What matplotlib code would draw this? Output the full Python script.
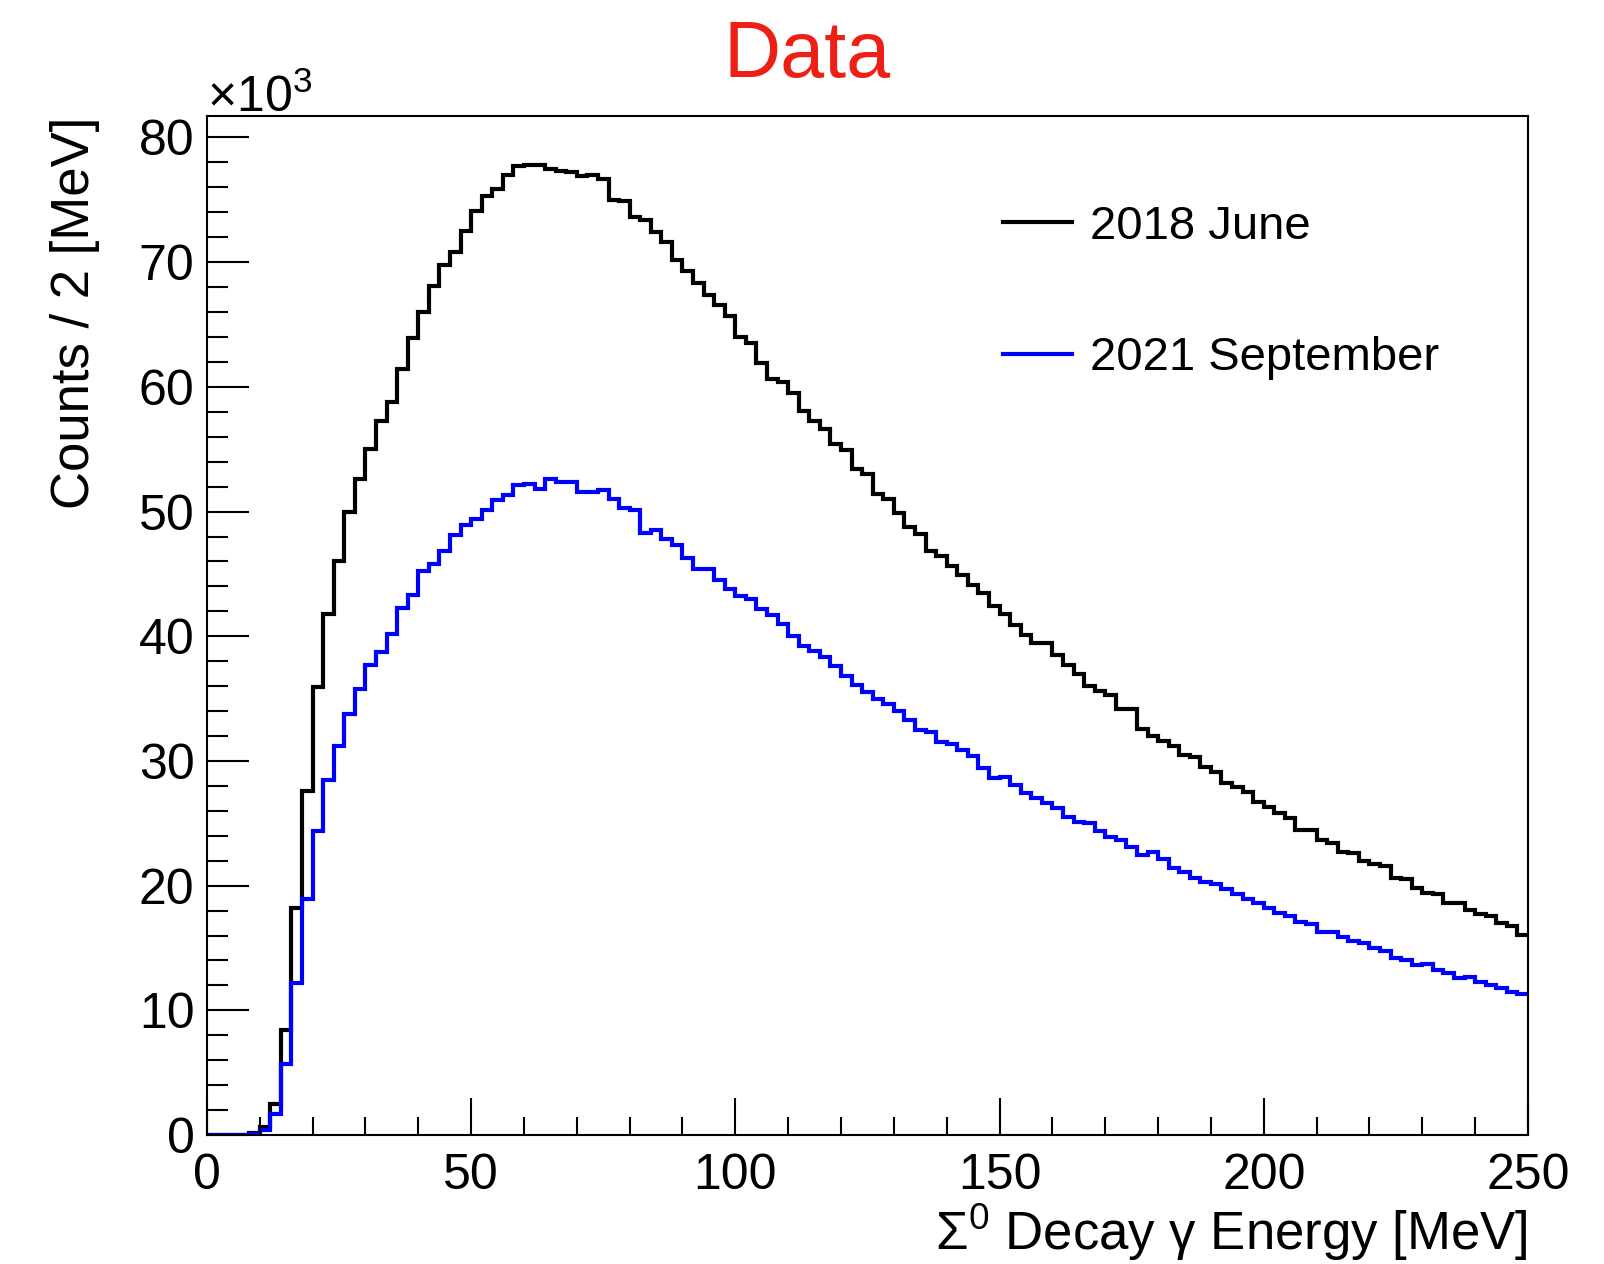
import numpy as np
import matplotlib
matplotlib.use("Agg")
from matplotlib import pyplot as plt
from matplotlib.ticker import MultipleLocator

plt.rcParams["font.family"] = ["Liberation Sans", "DejaVu Sans"]
plt.rcParams["mathtext.fontset"] = "custom"
plt.rcParams["mathtext.rm"] = "Liberation Sans"
plt.rcParams["mathtext.it"] = "Liberation Sans:italic"

# 2 MeV bins from 0 to 250 MeV, counts in units of 10^3
bin_edges = np.arange(0, 252, 2)

counts_2018_june = [
    0, 0, 0, 0.02, 0.15, 0.64, 2.5, 8.4, 18.2, 27.6,
    35.9, 41.8, 46.0, 50.0, 52.6, 55.0, 57.3, 58.8, 61.4, 63.9,
    66.0, 68.1, 69.8, 70.8, 72.5, 74.1, 75.3, 75.9, 77.0, 77.7,
    77.8, 77.8, 77.5, 77.3, 77.2, 76.9, 77.0, 76.7, 75.0, 74.9,
    73.6, 73.4, 72.4, 71.6, 70.2, 69.3, 68.3, 67.4, 66.6, 65.7,
    64.0, 63.5, 61.9, 60.6, 60.4, 59.5, 58.1, 57.3, 56.6, 55.4,
    54.9, 53.4, 53.0, 51.4, 51.0, 49.9, 48.8, 48.2, 46.8, 46.4,
    45.6, 44.9, 44.1, 43.5, 42.4, 41.8, 40.9, 40.1, 39.5, 39.5,
    38.5, 37.7, 37.0, 36.0, 35.6, 35.3, 34.2, 34.2, 32.6, 32.0,
    31.6, 31.2, 30.5, 30.3, 29.5, 29.1, 28.2, 27.9, 27.5, 26.7,
    26.3, 25.8, 25.4, 24.5, 24.5, 23.7, 23.4, 22.7, 22.6, 22.0,
    21.7, 21.6, 20.6, 20.5, 19.8, 19.4, 19.3, 18.6, 18.6, 18.05,
    17.7, 17.6, 17.0, 16.8, 16.05,
]

counts_2021_september = [
    0, 0, 0, 0, 0.1, 0.4, 1.7, 5.7, 12.2, 18.9,
    24.4, 28.5, 31.2, 33.8, 35.8, 37.7, 38.7, 40.2, 42.3, 43.3,
    45.2, 45.8, 46.8, 48.1, 48.9, 49.4, 50.1, 50.9, 51.3, 52.1,
    52.2, 51.8, 52.6, 52.4, 52.4, 51.6, 51.6, 51.7, 51.0, 50.3,
    50.1, 48.3, 48.5, 47.8, 47.3, 46.3, 45.4, 45.4, 44.5, 43.8,
    43.2, 43.0, 42.2, 41.7, 41.0, 40.0, 39.2, 38.8, 38.3, 37.6,
    36.8, 36.1, 35.5, 35.0, 34.6, 34.0, 33.3, 32.5, 32.3, 31.5,
    31.4, 30.9, 30.4, 29.4, 28.6, 28.7, 28.1, 27.4, 27.0, 26.6,
    26.2, 25.5, 25.1, 25.0, 24.4, 23.9, 23.7, 23.1, 22.5, 22.7,
    22.1, 21.4, 21.1, 20.6, 20.3, 20.1, 19.7, 19.3, 18.9, 18.6,
    18.2, 17.8, 17.6, 17.1, 16.9, 16.3, 16.3, 15.9, 15.6, 15.4,
    15.0, 14.8, 14.2, 14.05, 13.6, 13.7, 13.2, 13.0, 12.6, 12.65,
    12.3, 12.05, 11.8, 11.5, 11.3,
]

series_labels = ["2018 June", "2021 September"]

fig = plt.figure(figsize=(16.04, 12.64), dpi=100)
ax = fig.add_axes([0.129, 0.102, 0.8236, 0.806])

ax.stairs(counts_2018_june, bin_edges, baseline=None, color="black", linewidth=3,
          label=series_labels[0])
ax.stairs(counts_2021_september, bin_edges, baseline=None, color="#0000ff", linewidth=3,
          label=series_labels[1])

ax.set_xlim(0, 250)
ax.set_ylim(0, 81.7)

ax.xaxis.set_major_locator(MultipleLocator(50))
ax.xaxis.set_minor_locator(MultipleLocator(10))
ax.yaxis.set_major_locator(MultipleLocator(10))
ax.yaxis.set_minor_locator(MultipleLocator(2))
ax.tick_params(which="both", direction="in", width=1.5, labelsize=36, top=False, right=False)
ax.tick_params(axis="x", which="major", length=27, pad=13)
ax.tick_params(axis="x", which="minor", length=13)
ax.tick_params(axis="y", which="major", length=30, pad=9)
ax.tick_params(axis="y", which="minor", length=15)
for sp in ax.spines.values():
    sp.set_linewidth(1.5)
    sp.set_zorder(3)

ax.set_xlabel(r"Σ$^{0}$ Decay γ Energy [MeV]", fontsize=38, loc="right", labelpad=2)
ax.set_ylabel("Counts / 2 [MeV]", fontsize=38, loc="top", labelpad=28)

fig.text(0.503, 0.939, "Data", color="#ee2015", fontsize=57, ha="center", va="baseline")
fig.text(0.129, 0.911, r"$\times10^{3}$", fontsize=36, ha="left", va="baseline")

ax.legend(loc="upper left", bbox_to_anchor=(0.625, 0.838), bbox_transform=fig.transFigure,
          frameon=False, fontsize=34, handlelength=1.47, handletextpad=0.38,
          labelspacing=1.85, borderpad=0, borderaxespad=0)

fig.savefig("out.png", dpi=100)
